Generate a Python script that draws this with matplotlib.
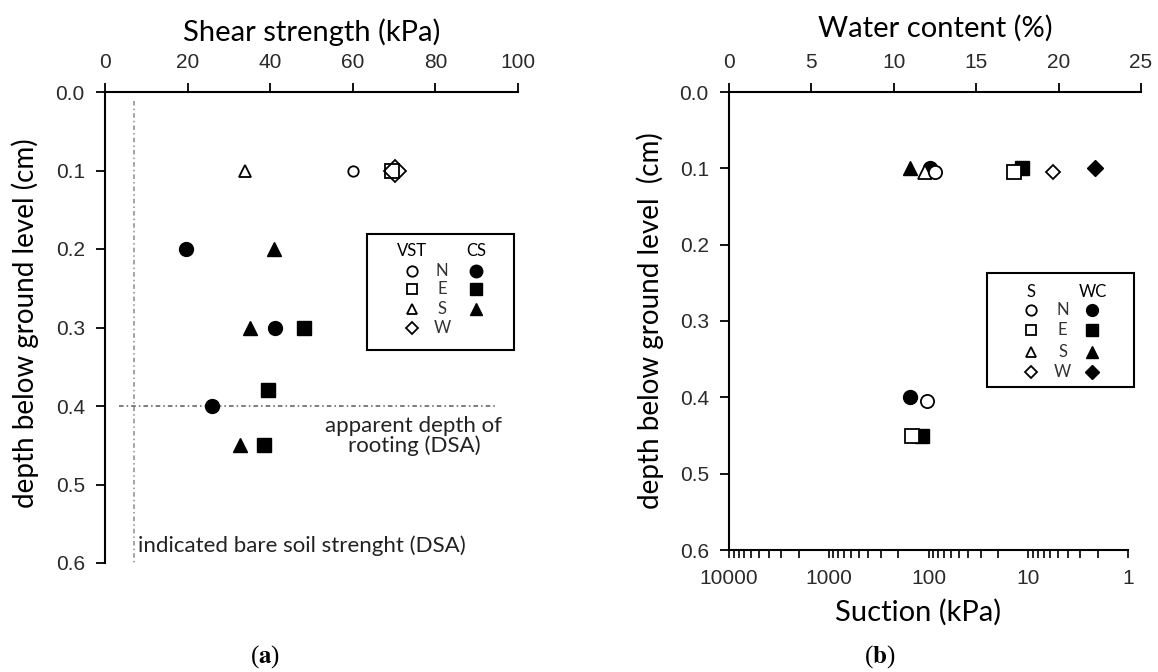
import matplotlib
matplotlib.use("Agg")
import matplotlib.pyplot as plt
from matplotlib.patches import Rectangle
from matplotlib.ticker import FixedLocator, FixedFormatter, LogLocator, NullFormatter

plt.rcParams["mathtext.fontset"] = "stix"

# ---------------- data ----------------
directions = ["N", "E", "S", "W"]
dir_markers = ["o", "s", "^", "D"]

# (a) vane shear test (VST), all at 0.1 depth
vst_depth = [0.1, 0.1, 0.1, 0.1]
vst_strength = [60.0, 69.5, 33.9, 70.1]          # N, E, S, W

# (a) core samples (CS)
cs_n_depth = [0.2, 0.3, 0.4]
cs_n_strength = [19.5, 41.2, 25.9]
cs_e_depth = [0.3, 0.38, 0.45]
cs_e_strength = [48.1, 39.5, 38.6]
cs_s_depth = [0.2, 0.3, 0.45]
cs_s_strength = [41.0, 35.2, 32.8]

bare_soil_strength = 7.0      # kPa
rooting_depth = 0.4

# (b) water content (WC), %
wc_n_depth = [0.1, 0.4]
wc_n = [12.2, 11.0]
wc_e_depth = [0.1, 0.45]
wc_e = [17.8, 11.7]
wc_s_depth = [0.1]
wc_s = [11.0]
wc_w_depth = [0.1]
wc_w = [22.2]

# (b) suction (S), kPa
suc_n_depth = [0.105, 0.405]
suc_n = [86, 103]
suc_e_depth = [0.105, 0.45]
suc_e = [14, 146]
suc_s_depth = [0.105]
suc_s = [108]
suc_w_depth = [0.105]
suc_w = [5.7]

# ticks
depth_ticks = [0.0, 0.1, 0.2, 0.3, 0.4, 0.5, 0.6]
depth_labels = ["0.0", "0.1", "0.2", "0.3", "0.4", "0.5", "0.6"]
shear_ticks = [0, 20, 40, 60, 80, 100]
wc_ticks = [0, 5, 10, 15, 20, 25]
suction_ticks = [10000, 1000, 100, 10, 1]
suction_labels = ["10000", "1000", "100", "10", "1"]

# ---------------- style ----------------
W, H = 1158, 672
TICK_FONT = "Liberation Sans"
TEXT_FONT = "Lato"
TICK_COLOR = "#2a2a2a"
SPINE_LW = 1.5
TICK_SIZE = 15
TITLE_SIZE = 21
YLABEL_SIZE = 20
NOTE_SIZE = 16
KEY_SIZE = 12


def px_box(x0, x1, y0, y1):
    """Axes rectangle from pixel edges (y measured from the top)."""
    return [x0 / W, 1 - y1 / H, (x1 - x0) / W, (y1 - y0) / H]


def style_depth_axis(ax):
    ax.set_ylim(0.6, 0.0)
    ax.yaxis.set_major_locator(FixedLocator(depth_ticks))
    ax.yaxis.set_major_formatter(FixedFormatter(depth_labels))
    for s in ("right", "bottom"):
        ax.spines[s].set_visible(False)
    for s in ("left", "top"):
        ax.spines[s].set_linewidth(SPINE_LW)
    ax.xaxis.tick_top()
    ax.tick_params(axis="both", direction="out", length=6.5, width=1.3, pad=8,
                   labelsize=TICK_SIZE, labelcolor=TICK_COLOR)
    for lab in ax.get_xticklabels() + ax.get_yticklabels():
        lab.set_fontfamily(TICK_FONT)
    ax.patch.set_alpha(0)


def draw_key(ax, header_left, header_right, x_cols, y_rows, y_head, box, ms_open, ms_fill, fs):
    x_open, x_lab, x_fill = x_cols
    ax.add_patch(Rectangle((box[0], box[1]), box[2], box[3], transform=ax.transAxes,
                           fill=False, lw=1.5, ec="black", clip_on=False, zorder=5))
    ax.text(x_open, y_head, header_left, transform=ax.transAxes, ha="center", va="center",
            fontsize=fs, family=TEXT_FONT)
    ax.text(x_fill, y_head, header_right, transform=ax.transAxes, ha="center", va="center",
            fontsize=fs, family=TEXT_FONT)
    for i, (d, m) in enumerate(zip(directions, dir_markers)):
        y = y_rows[i]
        size = ms_open * (0.85 if m == "D" else 1.0)
        ax.plot([x_open], [y], marker=m, ms=size, mfc="white", mec="black", mew=1.3,
                transform=ax.transAxes, clip_on=False, zorder=6)
        ax.text(x_lab, y, d, transform=ax.transAxes, ha="center", va="center",
                fontsize=fs, family=TEXT_FONT, color="#333333")
        if header_right == "CS" and d == "W":
            continue
        fsize = ms_fill * (0.85 if m == "D" else 1.0)
        ax.plot([x_fill], [y], marker=m, ms=fsize, mfc="black", mec="black", mew=1.0,
                transform=ax.transAxes, clip_on=False, zorder=6)


fig = plt.figure(figsize=(W / 100, H / 100), dpi=100)

# ================= (a) shear strength =================
axa = fig.add_axes(px_box(105, 518, 92, 563))
style_depth_axis(axa)
axa.set_xlim(0, 100)
axa.xaxis.set_major_locator(FixedLocator(shear_ticks))
for lab in axa.get_xticklabels():
    lab.set_fontfamily(TICK_FONT)

axa.set_xlabel("Shear strength (kPa)", fontsize=TITLE_SIZE, family=TEXT_FONT)
axa.xaxis.set_label_position("top")
axa.xaxis.set_label_coords(0.5, 1.128)
axa.xaxis.label.set_va("center")
axa.set_ylabel("depth below ground level (cm)", fontsize=YLABEL_SIZE, family=TEXT_FONT)
axa.yaxis.label.set_va("center")
axa.yaxis.set_label_coords(-0.194, 0.51)

# reference lines
axa.plot([bare_soil_strength, bare_soil_strength], [0.012, 0.6], color="#8a8a8a",
         lw=1.1, ls=(0, (3, 2, 1, 2)), clip_on=False)
axa.plot([3.3, 95.0], [rooting_depth, rooting_depth], color="#5a5a5a",
         lw=1.1, ls=(0, (3, 2, 1, 2)), clip_on=False)
axa.text(74.8, 0.438, "apparent depth of\nrooting (DSA)", ha="center", va="center",
         fontsize=NOTE_SIZE, family=TEXT_FONT, color="#222222", linespacing=1.0)
axa.text(8.0, 0.578, "indicated bare soil strenght (DSA)", ha="left", va="center",
         fontsize=NOTE_SIZE, family=TEXT_FONT, color="#222222")

# core samples (filled)
axa.plot(cs_n_strength, cs_n_depth, ls="none", marker="o", ms=10, color="black", zorder=3)
axa.plot(cs_e_strength, cs_e_depth, ls="none", marker="s", ms=10, color="black", zorder=3)
axa.plot(cs_s_strength, cs_s_depth, ls="none", marker="^", ms=10, color="black", zorder=3)
# vane shear test (open); diamond below square
vst_sizes = {"o": 7.5, "s": 9.5, "^": 9, "D": 11.5}
for k in (3, 0, 2, 1):
    m = dir_markers[k]
    axa.plot([vst_strength[k]], [vst_depth[k]], ls="none", marker=m, ms=vst_sizes[m],
             mfc="white" if m != "s" else "none", mec="black", mew=1.3, zorder=4)

draw_key(axa, "VST", "CS", (0.743, 0.816, 0.898), [0.620, 0.582, 0.539, 0.499], 0.662,
         (0.634, 0.452, 0.356, 0.247), 7.5, 9, KEY_SIZE)

fig.text(265 / W, 1 - 657 / H, r"($\mathbf{a}$)", ha="center", va="center",
         fontsize=18, family="Liberation Serif")

# ================= (b) water content / suction =================
axb = fig.add_axes(px_box(729, 1141, 92, 550))
style_depth_axis(axb)
axb.set_xlim(0, 25)
axb.xaxis.set_major_locator(FixedLocator(wc_ticks))
for lab in axb.get_xticklabels():
    lab.set_fontfamily(TICK_FONT)
axb.set_xlabel("Water content (%)", fontsize=TITLE_SIZE, family=TEXT_FONT)
axb.xaxis.set_label_position("top")
axb.xaxis.label.set_va("center")
axb.xaxis.set_label_coords(0.5, 1.14)
axb.set_ylabel("depth below ground level  (cm)", fontsize=YLABEL_SIZE, family=TEXT_FONT)
axb.yaxis.label.set_va("center")
axb.yaxis.set_label_coords(-0.192, 0.5)

# suction axis along the bottom, reversed log scale
axs = fig.add_axes(px_box(729, 1128, 92, 550))
axs.set_xscale("log")
axs.set_xlim(10000, 1)
axs.set_ylim(0.6, 0.0)
axs.patch.set_alpha(0)
for s in ("left", "right", "top"):
    axs.spines[s].set_visible(False)
axs.spines["bottom"].set_linewidth(SPINE_LW)
axs.set_yticks([])
axs.xaxis.set_major_locator(FixedLocator(suction_ticks))
axs.xaxis.set_major_formatter(FixedFormatter(suction_labels))
axs.xaxis.set_minor_locator(LogLocator(base=10, subs=range(2, 10)))
axs.xaxis.set_minor_formatter(NullFormatter())
axs.tick_params(axis="x", which="both", direction="out", length=6, width=1.2, pad=8,
                labelsize=TICK_SIZE, labelcolor=TICK_COLOR)
for lab in axs.get_xticklabels():
    lab.set_fontfamily(TICK_FONT)
axs.set_xlabel("Suction (kPa)", fontsize=TITLE_SIZE, family=TEXT_FONT)
axs.xaxis.set_label_coords(0.475, -0.135)
axs.xaxis.label.set_va("center")

# water content (filled), drawn on the top axis
axb.plot(wc_n, wc_n_depth, ls="none", marker="o", ms=10, color="black", zorder=3)
axb.plot(wc_e, wc_e_depth, ls="none", marker="s", ms=9.5, color="black", zorder=3)
axb.plot(wc_s, wc_s_depth, ls="none", marker="^", ms=10, color="black", zorder=3)
axb.plot(wc_w, wc_w_depth, ls="none", marker="D", ms=8, color="black", zorder=3)

# suction (open), drawn on the bottom axis
axs.plot(suc_s, suc_s_depth, ls="none", marker="^", ms=9.5, mfc="white", mec="black", mew=1.3, zorder=4)
axs.plot(suc_n, suc_n_depth, ls="none", marker="o", ms=9.5, mfc="white", mec="black", mew=1.3, zorder=4)
axs.plot(suc_e, suc_e_depth, ls="none", marker="s", ms=9.5, mfc="white", mec="black", mew=1.3, zorder=4)
axs.plot(suc_w, suc_w_depth, ls="none", marker="D", ms=7, mfc="white", mec="black", mew=1.3, zorder=4)

draw_key(axb, "S", "WC", (0.732, 0.810, 0.882), [0.524, 0.480, 0.432, 0.389], 0.564,
         (0.626, 0.356, 0.357, 0.249), 7.5, 8.5, KEY_SIZE)

fig.text(880 / W, 1 - 657 / H, r"($\mathbf{b}$)", ha="center", va="center",
         fontsize=18, family="Liberation Serif")

fig.savefig("out.png", dpi=100)
